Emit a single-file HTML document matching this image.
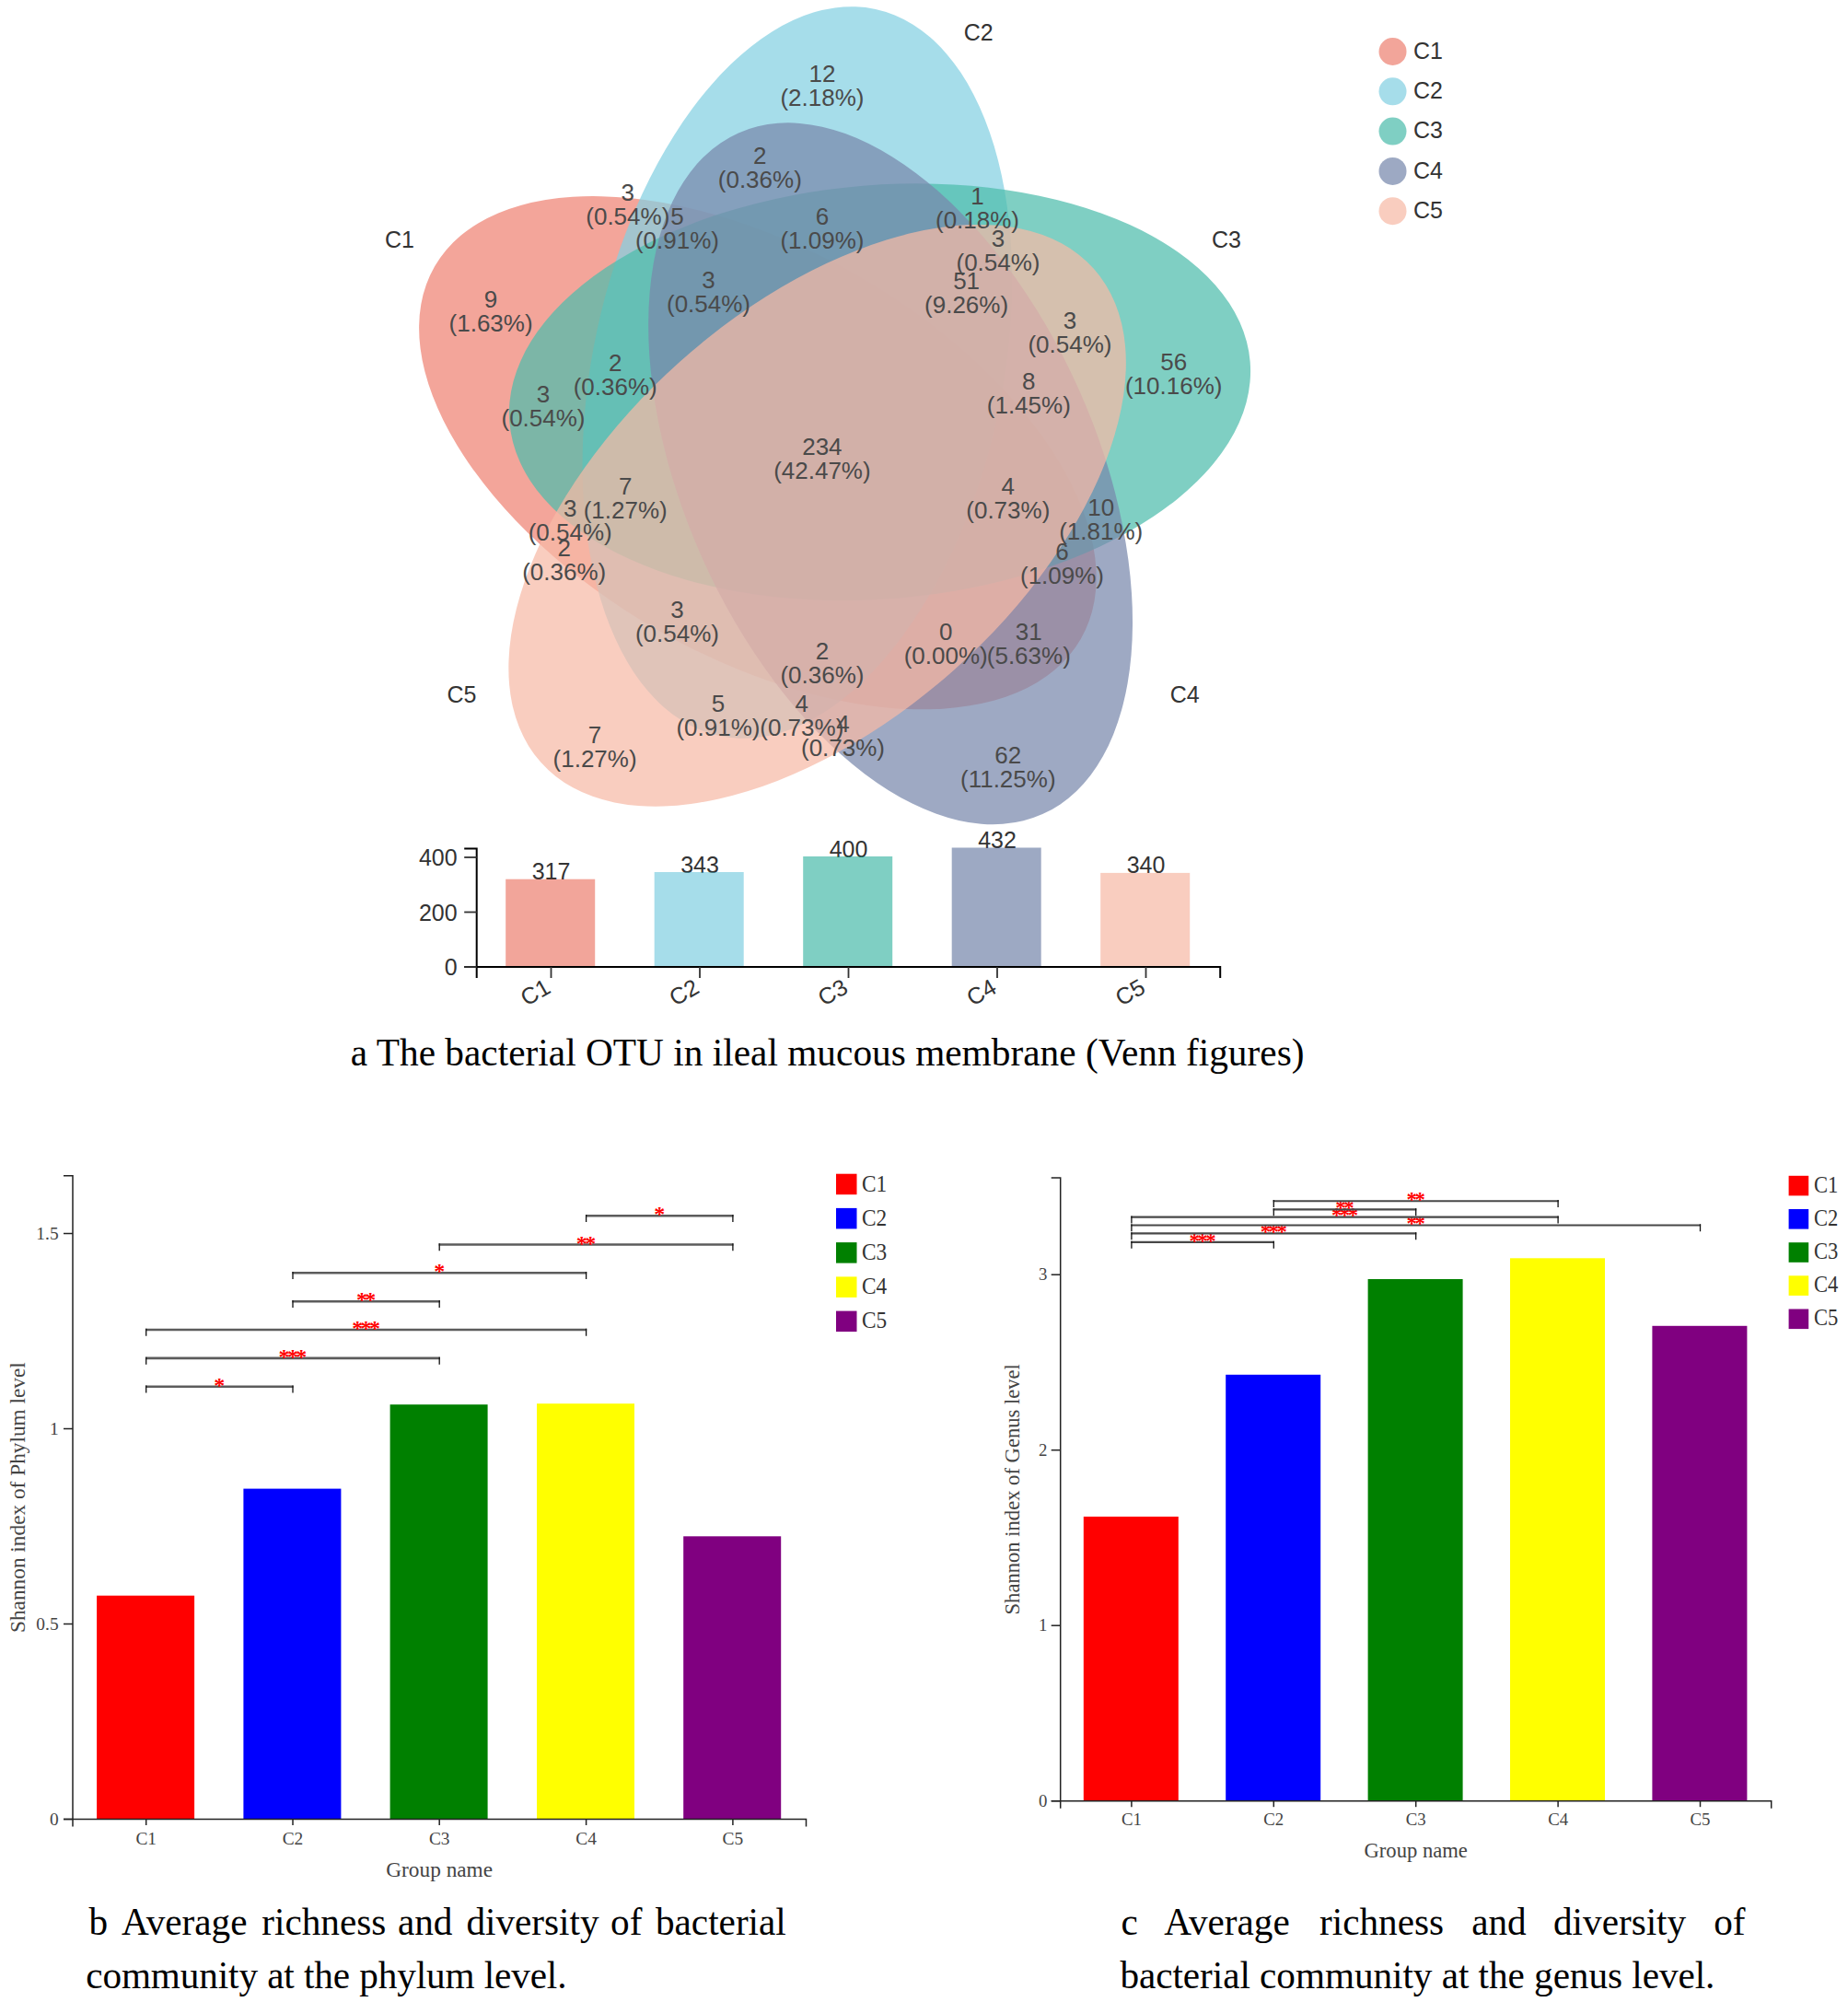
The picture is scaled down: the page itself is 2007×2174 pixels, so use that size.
<!DOCTYPE html>
<html lang="en"><head><meta charset="utf-8"><title>Figure: bacterial OTU Venn and Shannon index</title>
<style>html,body{margin:0;padding:0;background:#fff}svg{display:block}.s{font-family:"Liberation Sans",Arial,sans-serif}.t{font-family:"Liberation Serif","Times New Roman",serif}</style></head><body>
<svg width="2007" height="2174" viewBox="0 0 2007 2174">
<rect width="2007" height="2174" fill="#fff"/>
<g id="venn" fill-opacity="0.72">
<ellipse cx="822.9" cy="491.7" rx="405.0" ry="221.1" fill="#ee8273" transform="rotate(209.98 822.9 491.7)"/>
<ellipse cx="865.9" cy="404.5" rx="403.6" ry="222.3" fill="#83d0e2" transform="rotate(-77.85 865.9 404.5)"/>
<ellipse cx="955.5" cy="425.7" rx="403.5" ry="224.7" fill="#4ebdac" transform="rotate(-4.67 955.5 425.7)"/>
<ellipse cx="967.1" cy="514.3" rx="405.0" ry="224.1" fill="#7888ac" transform="rotate(65.94 967.1 514.3)"/>
<ellipse cx="887.6" cy="559.8" rx="402.5" ry="224.0" fill="#f7baa6" transform="rotate(138.24 887.6 559.8)"/>
</g>
<g class="s" font-size="26" fill="#4a4a4a" text-anchor="middle">
<text x="892.9" y="89.3">12</text><text x="892.9" y="115.3">(2.18%)</text>
<text x="825.3" y="178.0">2</text><text x="825.3" y="204.0">(0.36%)</text>
<text x="681.8" y="217.5">3</text><text x="681.8" y="243.5">(0.54%)</text>
<text x="735.4" y="243.5">5</text><text x="735.4" y="269.5">(0.91%)</text>
<text x="892.9" y="243.5">6</text><text x="892.9" y="269.5">(1.09%)</text>
<text x="769.5" y="313.3">3</text><text x="769.5" y="339.3">(0.54%)</text>
<text x="533.1" y="334.4">9</text><text x="533.1" y="360.4">(1.63%)</text>
<text x="668.2" y="402.6">2</text><text x="668.2" y="428.6">(0.36%)</text>
<text x="590.0" y="436.7">3</text><text x="590.0" y="462.7">(0.54%)</text>
<text x="1061.5" y="222.4">1</text><text x="1061.5" y="248.4">(0.18%)</text>
<text x="1084.0" y="267.9">3</text><text x="1084.0" y="293.9">(0.54%)</text>
<text x="1049.6" y="313.9">51</text><text x="1049.6" y="339.9">(9.26%)</text>
<text x="1161.9" y="357.1">3</text><text x="1161.9" y="383.1">(0.54%)</text>
<text x="1274.7" y="401.8">56</text><text x="1274.7" y="427.8">(10.16%)</text>
<text x="1117.3" y="423.4">8</text><text x="1117.3" y="449.4">(1.45%)</text>
<text x="892.9" y="493.8">234</text><text x="892.9" y="519.8">(42.47%)</text>
<text x="1094.8" y="536.6">4</text><text x="1094.8" y="562.6">(0.73%)</text>
<text x="1195.7" y="559.6">10</text><text x="1195.7" y="585.6">(1.81%)</text>
<text x="1153.5" y="607.5">6</text><text x="1153.5" y="633.5">(1.09%)</text>
<text x="1027.2" y="694.9">0</text><text x="1027.2" y="720.9">(0.00%)</text>
<text x="1117.3" y="694.9">31</text><text x="1117.3" y="720.9">(5.63%)</text>
<text x="1094.8" y="828.8">62</text><text x="1094.8" y="854.8">(11.25%)</text>
<text x="679.2" y="537.0">7</text><text x="679.2" y="563.0">(1.27%)</text>
<text x="619.2" y="561.0">3</text><text x="619.2" y="587.0">(0.54%)</text>
<text x="612.7" y="604.2">2</text><text x="612.7" y="630.2">(0.36%)</text>
<text x="735.4" y="670.8">3</text><text x="735.4" y="696.8">(0.54%)</text>
<text x="892.9" y="716.2">2</text><text x="892.9" y="742.2">(0.36%)</text>
<text x="779.9" y="773.0">5</text><text x="779.9" y="799.0">(0.91%)</text>
<text x="870.8" y="773.0">4</text><text x="870.8" y="799.0">(0.73%)</text>
<text x="915.5" y="794.8">4</text><text x="915.5" y="820.8">(0.73%)</text>
<text x="646.1" y="807.0">7</text><text x="646.1" y="833.0">(1.27%)</text>
</g>
<g class="s" font-size="25" fill="#333" text-anchor="middle">
<text x="434" y="269.3">C1</text>
<text x="1062.7" y="44.2">C2</text>
<text x="1332" y="269.3">C3</text>
<text x="1286.8" y="762.8">C4</text>
<text x="501.4" y="762.8">C5</text>
</g>
<g class="s" font-size="25" fill="#333">
<circle cx="1512.5" cy="56.0" r="15" fill="#E64B35" fill-opacity="0.5"/><text x="1535" y="63.7">C1</text>
<circle cx="1512.5" cy="99.3" r="15" fill="#4DBBD5" fill-opacity="0.5"/><text x="1535" y="107.0">C2</text>
<circle cx="1512.5" cy="142.6" r="15" fill="#00A087" fill-opacity="0.5"/><text x="1535" y="150.3">C3</text>
<circle cx="1512.5" cy="185.9" r="15" fill="#3C5488" fill-opacity="0.5"/><text x="1535" y="193.6">C4</text>
<circle cx="1512.5" cy="229.2" r="15" fill="#F39B7F" fill-opacity="0.5"/><text x="1535" y="236.9">C5</text>
</g>
<g id="otubar">
<g class="s" font-size="25" fill="#333" text-anchor="middle">
<text x="598.5" y="955.2">317</text>
<text x="760.0" y="947.5">343</text>
<text x="921.5" y="930.5">400</text>
<text x="1083.0" y="921.0">432</text>
<text x="1244.5" y="948.4">340</text>
</g>
<rect x="549.2" y="954.7" width="97" height="95.3" fill="#E64B35" fill-opacity="0.5"/>
<rect x="710.7" y="947.0" width="97" height="103.0" fill="#4DBBD5" fill-opacity="0.5"/>
<rect x="872.2" y="930.0" width="97" height="120.0" fill="#00A087" fill-opacity="0.5"/>
<rect x="1033.7" y="920.5" width="97" height="129.5" fill="#3C5488" fill-opacity="0.5"/>
<rect x="1195.2" y="947.9" width="97" height="102.1" fill="#F39B7F" fill-opacity="0.5"/>
<path d="M504.2 921.5H517.7V1062.0" fill="none" stroke="#000" stroke-width="2"/>
<path d="M504.2 1050H1325.2V1062" fill="none" stroke="#000" stroke-width="2"/>
<line x1="504.2" x2="517.7" y1="1050.0" y2="1050.0" stroke="#333" stroke-width="1.8"/>
<text class="s" font-size="25" fill="#333" text-anchor="end" x="496.7" y="1059.0">0</text>
<line x1="504.2" x2="517.7" y1="990.5" y2="990.5" stroke="#333" stroke-width="1.8"/>
<text class="s" font-size="25" fill="#333" text-anchor="end" x="496.7" y="999.5">200</text>
<line x1="504.2" x2="517.7" y1="931.0" y2="931.0" stroke="#333" stroke-width="1.8"/>
<text class="s" font-size="25" fill="#333" text-anchor="end" x="496.7" y="940.0">400</text>
<line x1="598.5" x2="598.5" y1="1050" y2="1062" stroke="#333" stroke-width="1.8"/>
<text class="s" font-size="25" fill="#333" text-anchor="end" transform="translate(599.5 1077) rotate(-30)">C1</text>
<line x1="760.0" x2="760.0" y1="1050" y2="1062" stroke="#333" stroke-width="1.8"/>
<text class="s" font-size="25" fill="#333" text-anchor="end" transform="translate(761.0 1077) rotate(-30)">C2</text>
<line x1="921.5" x2="921.5" y1="1050" y2="1062" stroke="#333" stroke-width="1.8"/>
<text class="s" font-size="25" fill="#333" text-anchor="end" transform="translate(922.5 1077) rotate(-30)">C3</text>
<line x1="1083.0" x2="1083.0" y1="1050" y2="1062" stroke="#333" stroke-width="1.8"/>
<text class="s" font-size="25" fill="#333" text-anchor="end" transform="translate(1084.0 1077) rotate(-30)">C4</text>
<line x1="1244.5" x2="1244.5" y1="1050" y2="1062" stroke="#333" stroke-width="1.8"/>
<text class="s" font-size="25" fill="#333" text-anchor="end" transform="translate(1245.5 1077) rotate(-30)">C5</text>
</g>
<text class="t" font-size="41.3" fill="#000" x="380.8" y="1156.5" textLength="1035.7" lengthAdjust="spacing">a The bacterial OTU in ileal mucous membrane (Venn figures)</text>
<g id="chartb">
<rect x="105.1" y="1732.7" width="106" height="242.8" fill="#ff0000"/>
<rect x="264.4" y="1616.6" width="106" height="358.9" fill="#0000ff"/>
<rect x="423.6" y="1525.2" width="106" height="450.3" fill="#008000"/>
<rect x="583.0" y="1524.2" width="106" height="451.3" fill="#ffff00"/>
<rect x="742.2" y="1668.3" width="106" height="307.2" fill="#800080"/>
<path d="M69.0 1276.8H79.0V1983.5" fill="none" stroke="#222" stroke-width="1.5"/>
<path d="M69.0 1975.5H875.5V1983.5" fill="none" stroke="#222" stroke-width="1.5"/>
<line x1="69.0" x2="79.0" y1="1975.5" y2="1975.5" stroke="#222" stroke-width="1.5"/>
<text class="t" font-size="19.4" fill="#444" text-anchor="end" x="63.6" y="1981.9">0</text>
<line x1="69.0" x2="79.0" y1="1763.5" y2="1763.5" stroke="#222" stroke-width="1.5"/>
<text class="t" font-size="19.4" fill="#444" text-anchor="end" x="63.6" y="1769.9">0.5</text>
<line x1="69.0" x2="79.0" y1="1551.5" y2="1551.5" stroke="#222" stroke-width="1.5"/>
<text class="t" font-size="19.4" fill="#444" text-anchor="end" x="63.6" y="1557.9">1</text>
<line x1="69.0" x2="79.0" y1="1339.5" y2="1339.5" stroke="#222" stroke-width="1.5"/>
<text class="t" font-size="19.4" fill="#444" text-anchor="end" x="63.6" y="1345.9">1.5</text>
<line x1="158.7" x2="158.7" y1="1975.5" y2="1982.0" stroke="#222" stroke-width="1.5"/>
<text class="t" font-size="19.4" fill="#444" text-anchor="middle" x="158.7" y="2002.5">C1</text>
<line x1="318.0" x2="318.0" y1="1975.5" y2="1982.0" stroke="#222" stroke-width="1.5"/>
<text class="t" font-size="19.4" fill="#444" text-anchor="middle" x="318.0" y="2002.5">C2</text>
<line x1="477.2" x2="477.2" y1="1975.5" y2="1982.0" stroke="#222" stroke-width="1.5"/>
<text class="t" font-size="19.4" fill="#444" text-anchor="middle" x="477.2" y="2002.5">C3</text>
<line x1="636.6" x2="636.6" y1="1975.5" y2="1982.0" stroke="#222" stroke-width="1.5"/>
<text class="t" font-size="19.4" fill="#444" text-anchor="middle" x="636.6" y="2002.5">C4</text>
<line x1="795.9" x2="795.9" y1="1975.5" y2="1982.0" stroke="#222" stroke-width="1.5"/>
<text class="t" font-size="19.4" fill="#444" text-anchor="middle" x="795.9" y="2002.5">C5</text>
<text class="t" font-size="23.3" fill="#444" text-anchor="middle" x="477.2" y="2038.2">Group name</text>
<text class="t" font-size="23.3" fill="#444" text-anchor="middle" transform="translate(26.5 1626.1) rotate(-90)">Shannon index of Phylum level</text>
<line x1="158.1" x2="318.6" y1="1505.7" y2="1505.7" stroke="#5c5c5c" stroke-width="2.6"/>
<path d="M158.7 1504.5V1512.5M318.0 1504.5V1512.5" fill="none" stroke="#111" stroke-width="1.3"/>
<text class="t" font-size="24" fill="#ff0000" font-weight="bold" text-anchor="middle" letter-spacing="-2.65" x="237.0" y="1511.7">*</text>
<line x1="158.1" x2="477.9" y1="1474.9" y2="1474.9" stroke="#5c5c5c" stroke-width="2.6"/>
<path d="M158.7 1473.7V1481.7M477.2 1473.7V1481.7" fill="none" stroke="#111" stroke-width="1.3"/>
<text class="t" font-size="24" fill="#ff0000" font-weight="bold" text-anchor="middle" letter-spacing="-2.65" x="316.6" y="1480.9">***</text>
<line x1="158.1" x2="637.2" y1="1444.0" y2="1444.0" stroke="#5c5c5c" stroke-width="2.6"/>
<path d="M158.7 1442.8V1450.8M636.6 1442.8V1450.8" fill="none" stroke="#111" stroke-width="1.3"/>
<text class="t" font-size="24" fill="#ff0000" font-weight="bold" text-anchor="middle" letter-spacing="-2.65" x="396.3" y="1450.0">***</text>
<line x1="317.4" x2="477.9" y1="1413.2" y2="1413.2" stroke="#5c5c5c" stroke-width="2.6"/>
<path d="M318.0 1412.0V1420.0M477.2 1412.0V1420.0" fill="none" stroke="#111" stroke-width="1.3"/>
<text class="t" font-size="24" fill="#ff0000" font-weight="bold" text-anchor="middle" letter-spacing="-2.65" x="396.3" y="1419.2">**</text>
<line x1="317.4" x2="637.2" y1="1382.3" y2="1382.3" stroke="#5c5c5c" stroke-width="2.6"/>
<path d="M318.0 1381.1V1389.1M636.6 1381.1V1389.1" fill="none" stroke="#111" stroke-width="1.3"/>
<text class="t" font-size="24" fill="#ff0000" font-weight="bold" text-anchor="middle" letter-spacing="-2.65" x="475.9" y="1388.3">*</text>
<line x1="476.6" x2="796.5" y1="1351.5" y2="1351.5" stroke="#5c5c5c" stroke-width="2.6"/>
<path d="M477.2 1350.3V1358.3M795.9 1350.3V1358.3" fill="none" stroke="#111" stroke-width="1.3"/>
<text class="t" font-size="24" fill="#ff0000" font-weight="bold" text-anchor="middle" letter-spacing="-2.65" x="635.2" y="1357.5">**</text>
<line x1="636.0" x2="796.5" y1="1320.3" y2="1320.3" stroke="#5c5c5c" stroke-width="2.6"/>
<path d="M636.6 1319.1V1327.1M795.9 1319.1V1327.1" fill="none" stroke="#111" stroke-width="1.3"/>
<text class="t" font-size="24" fill="#ff0000" font-weight="bold" text-anchor="middle" letter-spacing="-2.65" x="714.9" y="1326.3">*</text>
<rect x="908.0" y="1274.7" width="22.5" height="22.5" fill="#ff0000"/>
<text class="t" font-size="25.2" fill="#333" x="936.0" y="1293.5" textLength="27.2" lengthAdjust="spacingAndGlyphs">C1</text>
<rect x="908.0" y="1311.9" width="22.5" height="22.5" fill="#0000ff"/>
<text class="t" font-size="25.2" fill="#333" x="936.0" y="1330.7" textLength="27.2" lengthAdjust="spacingAndGlyphs">C2</text>
<rect x="908.0" y="1349.1" width="22.5" height="22.5" fill="#008000"/>
<text class="t" font-size="25.2" fill="#333" x="936.0" y="1367.9" textLength="27.2" lengthAdjust="spacingAndGlyphs">C3</text>
<rect x="908.0" y="1386.4" width="22.5" height="22.5" fill="#ffff00"/>
<text class="t" font-size="25.2" fill="#333" x="936.0" y="1405.2" textLength="27.2" lengthAdjust="spacingAndGlyphs">C4</text>
<rect x="908.0" y="1423.6" width="22.5" height="22.5" fill="#800080"/>
<text class="t" font-size="25.2" fill="#333" x="936.0" y="1442.4" textLength="27.2" lengthAdjust="spacingAndGlyphs">C5</text>
</g>
<g id="chartc">
<rect x="1176.8" y="1646.9" width="103" height="308.8" fill="#ff0000"/>
<rect x="1331.2" y="1492.8" width="103" height="462.9" fill="#0000ff"/>
<rect x="1485.6" y="1389.0" width="103" height="566.7" fill="#008000"/>
<rect x="1640.0" y="1366.3" width="103" height="589.4" fill="#ffff00"/>
<rect x="1794.4" y="1439.8" width="103" height="515.9" fill="#800080"/>
<path d="M1141.7 1279.0H1151.7V1963.7" fill="none" stroke="#222" stroke-width="1.5"/>
<path d="M1141.7 1955.7H1923.7V1963.7" fill="none" stroke="#222" stroke-width="1.5"/>
<line x1="1141.7" x2="1151.7" y1="1955.7" y2="1955.7" stroke="#222" stroke-width="1.5"/>
<text class="t" font-size="18.8" fill="#444" text-anchor="end" x="1137.4" y="1961.9">0</text>
<line x1="1141.7" x2="1151.7" y1="1765.2" y2="1765.2" stroke="#222" stroke-width="1.5"/>
<text class="t" font-size="18.8" fill="#444" text-anchor="end" x="1137.4" y="1771.4">1</text>
<line x1="1141.7" x2="1151.7" y1="1574.7" y2="1574.7" stroke="#222" stroke-width="1.5"/>
<text class="t" font-size="18.8" fill="#444" text-anchor="end" x="1137.4" y="1580.9">2</text>
<line x1="1141.7" x2="1151.7" y1="1384.2" y2="1384.2" stroke="#222" stroke-width="1.5"/>
<text class="t" font-size="18.8" fill="#444" text-anchor="end" x="1137.4" y="1390.4">3</text>
<line x1="1228.9" x2="1228.9" y1="1955.7" y2="1962.2" stroke="#222" stroke-width="1.5"/>
<text class="t" font-size="18.8" fill="#444" text-anchor="middle" x="1228.9" y="1982.2">C1</text>
<line x1="1383.3" x2="1383.3" y1="1955.7" y2="1962.2" stroke="#222" stroke-width="1.5"/>
<text class="t" font-size="18.8" fill="#444" text-anchor="middle" x="1383.3" y="1982.2">C2</text>
<line x1="1537.7" x2="1537.7" y1="1955.7" y2="1962.2" stroke="#222" stroke-width="1.5"/>
<text class="t" font-size="18.8" fill="#444" text-anchor="middle" x="1537.7" y="1982.2">C3</text>
<line x1="1692.1" x2="1692.1" y1="1955.7" y2="1962.2" stroke="#222" stroke-width="1.5"/>
<text class="t" font-size="18.8" fill="#444" text-anchor="middle" x="1692.1" y="1982.2">C4</text>
<line x1="1846.5" x2="1846.5" y1="1955.7" y2="1962.2" stroke="#222" stroke-width="1.5"/>
<text class="t" font-size="18.8" fill="#444" text-anchor="middle" x="1846.5" y="1982.2">C5</text>
<text class="t" font-size="22.6" fill="#444" text-anchor="middle" x="1537.7" y="2016.6">Group name</text>
<text class="t" font-size="22.6" fill="#444" text-anchor="middle" transform="translate(1106.5 1617.3) rotate(-90)">Shannon index of Genus level</text>
<line x1="1228.3" x2="1383.9" y1="1348.9" y2="1348.9" stroke="#484848" stroke-width="2.1"/>
<path d="M1228.9 1347.7V1355.7M1383.3 1347.7V1355.7" fill="none" stroke="#111" stroke-width="1.3"/>
<text class="t" font-size="22.8" fill="#ff0000" font-weight="bold" text-anchor="middle" letter-spacing="-2.52" x="1304.8" y="1354.6">***</text>
<line x1="1228.3" x2="1538.3" y1="1339.4" y2="1339.4" stroke="#484848" stroke-width="2.1"/>
<path d="M1228.9 1338.2V1346.2M1537.7 1338.2V1346.2" fill="none" stroke="#111" stroke-width="1.3"/>
<text class="t" font-size="22.8" fill="#ff0000" font-weight="bold" text-anchor="middle" letter-spacing="-2.52" x="1382.0" y="1345.1">***</text>
<line x1="1228.3" x2="1847.1" y1="1330.5" y2="1330.5" stroke="#484848" stroke-width="2.1"/>
<path d="M1228.9 1329.3V1337.3M1846.5 1329.3V1337.3" fill="none" stroke="#111" stroke-width="1.3"/>
<text class="t" font-size="22.8" fill="#ff0000" font-weight="bold" text-anchor="middle" letter-spacing="-2.52" x="1536.4" y="1336.2">**</text>
<line x1="1228.3" x2="1692.7" y1="1321.6" y2="1321.6" stroke="#484848" stroke-width="2.1"/>
<path d="M1228.9 1320.4V1328.4M1692.1 1320.4V1328.4" fill="none" stroke="#111" stroke-width="1.3"/>
<text class="t" font-size="22.8" fill="#ff0000" font-weight="bold" text-anchor="middle" letter-spacing="-2.52" x="1459.2" y="1327.3">***</text>
<line x1="1382.7" x2="1538.3" y1="1313.4" y2="1313.4" stroke="#484848" stroke-width="2.1"/>
<path d="M1383.3 1312.2V1320.2M1537.7 1312.2V1320.2" fill="none" stroke="#111" stroke-width="1.3"/>
<text class="t" font-size="22.8" fill="#ff0000" font-weight="bold" text-anchor="middle" letter-spacing="-2.52" x="1459.2" y="1319.1">**</text>
<line x1="1382.7" x2="1692.7" y1="1304.3" y2="1304.3" stroke="#484848" stroke-width="2.1"/>
<path d="M1383.3 1303.1V1311.1M1692.1 1303.1V1311.1" fill="none" stroke="#111" stroke-width="1.3"/>
<text class="t" font-size="22.8" fill="#ff0000" font-weight="bold" text-anchor="middle" letter-spacing="-2.52" x="1536.4" y="1310.0">**</text>
<rect x="1942.6" y="1276.8" width="21.6" height="21.6" fill="#ff0000"/>
<text class="t" font-size="24.4" fill="#333" x="1970.0" y="1294.6" textLength="26.3" lengthAdjust="spacingAndGlyphs">C1</text>
<rect x="1942.6" y="1313.0" width="21.6" height="21.6" fill="#0000ff"/>
<text class="t" font-size="24.4" fill="#333" x="1970.0" y="1330.8" textLength="26.3" lengthAdjust="spacingAndGlyphs">C2</text>
<rect x="1942.6" y="1349.2" width="21.6" height="21.6" fill="#008000"/>
<text class="t" font-size="24.4" fill="#333" x="1970.0" y="1367.0" textLength="26.3" lengthAdjust="spacingAndGlyphs">C3</text>
<rect x="1942.6" y="1385.3" width="21.6" height="21.6" fill="#ffff00"/>
<text class="t" font-size="24.4" fill="#333" x="1970.0" y="1403.1" textLength="26.3" lengthAdjust="spacingAndGlyphs">C4</text>
<rect x="1942.6" y="1421.5" width="21.6" height="21.6" fill="#800080"/>
<text class="t" font-size="24.4" fill="#333" x="1970.0" y="1439.3" textLength="26.3" lengthAdjust="spacingAndGlyphs">C5</text>
</g>
<text class="t" font-size="41.2" fill="#000" x="96.5" y="2100.6">b</text>
<text class="t" font-size="41.2" fill="#000" x="132" y="2100.6">Average</text>
<text class="t" font-size="41.2" fill="#000" x="284.3" y="2100.6">richness</text>
<text class="t" font-size="41.2" fill="#000" x="432" y="2100.6">and</text>
<text class="t" font-size="41.2" fill="#000" x="506.4" y="2100.6">diversity</text>
<text class="t" font-size="41.2" fill="#000" x="663.1" y="2100.6">of</text>
<text class="t" font-size="41.2" fill="#000" x="712" y="2100.6">bacterial</text>
<text class="t" font-size="41.2" fill="#000" x="93.2" y="2158.8" textLength="522.3" lengthAdjust="spacing">community at the phylum level.</text>
<text class="t" font-size="41.2" fill="#000" x="1217.5" y="2100.6">c</text>
<text class="t" font-size="41.2" fill="#000" x="1264.3" y="2100.6">Average</text>
<text class="t" font-size="41.2" fill="#000" x="1433" y="2100.6">richness</text>
<text class="t" font-size="41.2" fill="#000" x="1598.2" y="2100.6">and</text>
<text class="t" font-size="41.2" fill="#000" x="1687" y="2100.6">diversity</text>
<text class="t" font-size="41.2" fill="#000" x="1861.2" y="2100.6">of</text>
<text class="t" font-size="41.2" fill="#000" x="1216.4" y="2158.8" textLength="646" lengthAdjust="spacing">bacterial community at the genus level.</text>
</svg></body></html>
